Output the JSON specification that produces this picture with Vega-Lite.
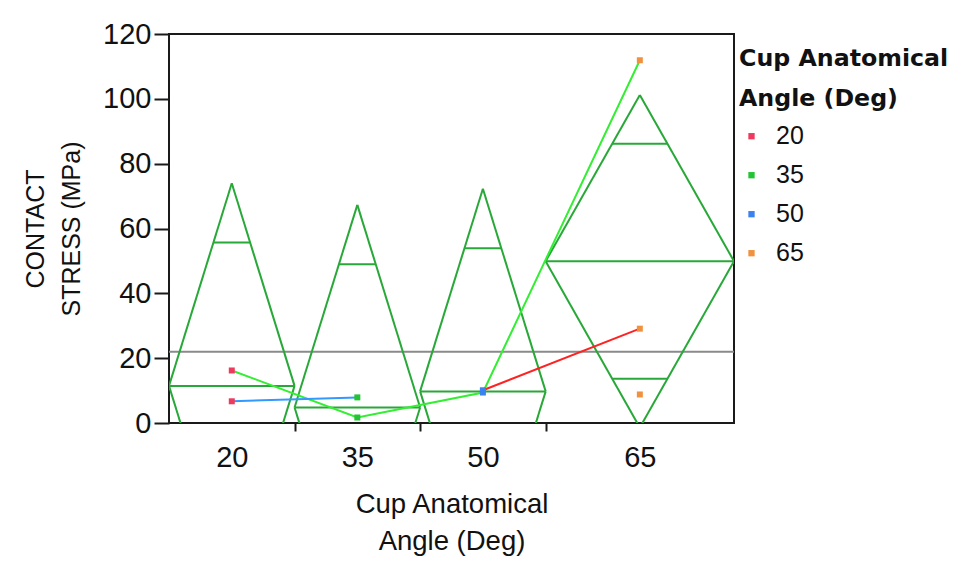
{
  "$schema": "https://vega.github.io/schema/vega-lite/v6.json",
  "width": 565,
  "height": 389,
  "padding": {"left": 23, "top": 20, "right": 5, "bottom": 5},
  "background": "white",
  "config": {
    "font": "Liberation Sans",
    "view": {"stroke": "#1a1a1a", "strokeWidth": 2},
    "axis": {"domain": false, "grid": false, "tickColor": "#1a1a1a", "tickWidth": 2, "labelColor": "#111", "titleColor": "#111", "titleFontWeight": "normal"},
    "legend": {
      "titleFont": "DejaVu Sans", "titleFontWeight": "bold", "titleFontSize": 23.7, "titleLineHeight": 40, "titleColor": "#111", "titleLimit": 400, "titlePadding": 13,
      "labelFont": "Liberation Sans", "labelFontSize": 25, "labelColor": "#111",
      "symbolType": "square", "symbolSize": 40, "symbolStrokeWidth": 0, "rowPadding": 13, "labelOffset": 12, "offset": -8, "padding": 13
    }
  },
  "datasets": {
    "groups": [
      {"angle": "20", "start": 0, "end": 2, "mean": 11.45, "ci": 62.5},
      {"angle": "35", "start": 2, "end": 4, "mean": 4.8, "ci": 62.5},
      {"angle": "50", "start": 4, "end": 6, "mean": 9.75, "ci": 62.5},
      {"angle": "65", "start": 6, "end": 9, "mean": 49.9, "ci": 51.3}
    ],
    "obs": [
      {"angle": "20", "stress": 16.2, "subject": "A"},
      {"angle": "20", "stress": 6.7, "subject": "B"},
      {"angle": "35", "stress": 1.7, "subject": "A"},
      {"angle": "35", "stress": 7.9, "subject": "B"},
      {"angle": "50", "stress": 9.4, "subject": "A"},
      {"angle": "50", "stress": 10.1, "subject": "C"},
      {"angle": "65", "stress": 111.9, "subject": "A"},
      {"angle": "65", "stress": 29.1, "subject": "C"},
      {"angle": "65", "stress": 8.8, "subject": "D"}
    ],
    "grand": [{"stress": 22}]
  },
  "resolve": {"scale": {"color": "independent"}},
  "layer": [
    {
      "data": {"name": "grand"},
      "mark": {"type": "rule", "color": "#8a8a8a", "strokeWidth": 2},
      "encoding": {
        "y": {"field": "stress", "type": "quantitative", "scale": {"domain": [0, 120], "nice": false, "zero": false},
          "axis": {"values": [0, 20, 40, 60, 80, 100, 120], "title": ["CONTACT", "STRESS (MPa)"], "titleFontSize": 25, "titleLineHeight": 36, "titlePadding": 18, "labelFontSize": 29, "tickSize": 15, "labelPadding": 3}}
      }
    },
    {
      "data": {"name": "groups"},
      "transform": [
        {"calculate": "(datum.start + datum.end) / 2", "as": "mid"},
        {"calculate": "datum.mean + datum.ci", "as": "upper"},
        {"calculate": "datum.mean - datum.ci", "as": "lower"},
        {"calculate": "datum.mean + datum.ci / sqrt(2)", "as": "ovU"},
        {"calculate": "datum.mean - datum.ci / sqrt(2)", "as": "ovL"},
        {"calculate": "datum.mid - (1 - 1 / sqrt(2)) * (datum.end - datum.start) / 2", "as": "ovX0"},
        {"calculate": "datum.mid + (1 - 1 / sqrt(2)) * (datum.end - datum.start) / 2", "as": "ovX1"}
      ],
      "layer": [
        {"mark": {"type": "rule", "color": "#28a838", "strokeWidth": 2, "clip": true},
          "encoding": {
            "x": {"field": "start", "type": "quantitative", "scale": {"domain": [0, 9], "nice": false, "zero": false},
              "axis": {"values": [1, 2, 3, 4, 5, 6, 7.5], "title": ["Cup Anatomical", "Angle (Deg)"], "titleFontSize": 27.5, "titleLineHeight": 37, "titlePadding": 18,
                "labelExpr": "datum.value == 1 ? '20' : datum.value == 3 ? '35' : datum.value == 5 ? '50' : datum.value == 7.5 ? '65' : ''",
                "labelFontSize": 29, "labelPadding": 12, "tickSize": 8,
                "tickOpacity": {"condition": {"test": "datum.value == 2 || datum.value == 4 || datum.value == 6", "value": 1}, "value": 0}}},
            "y": {"field": "mean", "type": "quantitative"},
            "x2": {"field": "mid"},
            "y2": {"field": "upper"}
          }},
        {"mark": {"type": "rule", "color": "#28a838", "strokeWidth": 2, "clip": true},
          "encoding": {"x": {"field": "mid", "type": "quantitative"}, "y": {"field": "upper", "type": "quantitative"}, "x2": {"field": "end"}, "y2": {"field": "mean"}}},
        {"mark": {"type": "rule", "color": "#28a838", "strokeWidth": 2, "clip": true},
          "encoding": {"x": {"field": "start", "type": "quantitative"}, "y": {"field": "mean", "type": "quantitative"}, "x2": {"field": "mid"}, "y2": {"field": "lower"}}},
        {"mark": {"type": "rule", "color": "#28a838", "strokeWidth": 2, "clip": true},
          "encoding": {"x": {"field": "mid", "type": "quantitative"}, "y": {"field": "lower", "type": "quantitative"}, "x2": {"field": "end"}, "y2": {"field": "mean"}}},
        {"mark": {"type": "rule", "color": "#28a838", "strokeWidth": 2, "clip": true},
          "encoding": {"x": {"field": "start", "type": "quantitative"}, "y": {"field": "mean", "type": "quantitative"}, "x2": {"field": "end"}}},
        {"mark": {"type": "rule", "color": "#28a838", "strokeWidth": 2, "clip": true},
          "encoding": {"x": {"field": "ovX0", "type": "quantitative"}, "y": {"field": "ovU", "type": "quantitative"}, "x2": {"field": "ovX1"}}},
        {"mark": {"type": "rule", "color": "#28a838", "strokeWidth": 2, "clip": true},
          "encoding": {"x": {"field": "ovX0", "type": "quantitative"}, "y": {"field": "ovL", "type": "quantitative"}, "x2": {"field": "ovX1"}}}
      ]
    },
    {
      "data": {"name": "obs"},
      "transform": [
        {"lookup": "angle", "from": {"data": {"name": "groups"}, "key": "angle", "fields": ["start", "end"]}},
        {"calculate": "(datum.start + datum.end) / 2", "as": "pos"}
      ],
      "resolve": {"scale": {"color": "independent"}},
      "layer": [
        {"mark": {"type": "line", "strokeWidth": 2, "clip": true},
          "encoding": {
            "x": {"field": "pos", "type": "quantitative"},
            "y": {"field": "stress", "type": "quantitative"},
            "color": {"field": "subject", "type": "nominal", "scale": {"domain": ["A", "B", "C", "D"], "range": ["#33ee33", "#3399ff", "#ff2222", "#f09040"]}, "legend": null}
          }},
        {"mark": {"type": "point", "shape": "square", "filled": true, "size": 36, "opacity": 1},
          "encoding": {
            "x": {"field": "pos", "type": "quantitative"},
            "y": {"field": "stress", "type": "quantitative"},
            "color": {"field": "angle", "type": "nominal", "scale": {"domain": ["20", "35", "50", "65"], "range": ["#ee3a5e", "#22c435", "#3b82f0", "#f0913f"]},
              "legend": {"title": ["Cup Anatomical", "Angle (Deg)"], "orient": "right"}}
          }}
      ]
    }
  ]
}
